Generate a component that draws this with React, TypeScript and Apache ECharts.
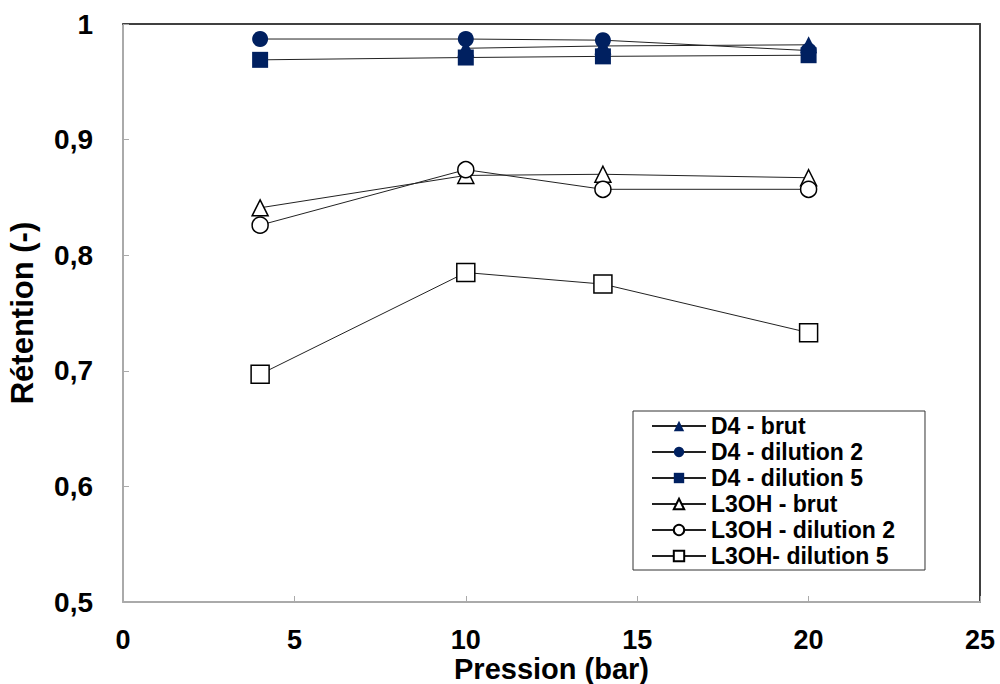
import React, { useEffect, useRef } from "react";
import * as echarts from "echarts";

const xD4Brut = [10, 14, 20];
const yD4Brut = [0.979, 0.981, 0.982];
const xPressure = [4, 10, 14, 20];
const yD4Dil2 = [0.987, 0.987, 0.986, 0.977];
const yD4Dil5 = [0.969, 0.971, 0.972, 0.973];
const yL3Brut = [0.841, 0.869, 0.870, 0.867];
const yL3Dil2 = [0.826, 0.874, 0.857, 0.857];
const yL3Dil5 = [0.697, 0.785, 0.775, 0.733];

const seriesNames = [
  "D4 - brut",
  "D4 - dilution 2",
  "D4 - dilution 5",
  "L3OH - brut",
  "L3OH - dilution 2",
  "L3OH- dilution 5",
];

const NAVY = "#002060";
const FONT = "'Liberation Sans', Arial, sans-serif";

function pairs(xs: number[], ys: number[]) {
  return xs.map((x, i) => [x, ys[i]]);
}

export default function App() {
  const ref = useRef<HTMLDivElement>(null);
  useEffect(() => {
    if (!ref.current) return;
    const chart = echarts.init(ref.current, undefined, { renderer: "svg" });
    const mk = (name: string, data: number[][], symbol: string, filled: boolean, size: number) => ({
      name,
      type: "line",
      data,
      symbol,
      symbolSize: size,
      showAllSymbol: true,
      lineStyle: { color: "#222", width: 1 },
      itemStyle: filled
        ? { color: NAVY, borderColor: NAVY, borderWidth: 0 }
        : { color: "#fff", borderColor: "#000", borderWidth: 1.5 },
      emphasis: { disabled: true },
    });
    chart.setOption({
      animation: false,
      backgroundColor: "#fff",
      grid: { left: 123, right: 20, top: 24, bottom: 82, outerBoundsMode: "none", containLabel: false },
      legend: {
        orient: "vertical",
        left: 633,
        top: 411,
        padding: [2, 30, 1, 18],
        itemWidth: 54,
        itemHeight: 13,
        itemGap: 0,
        backgroundColor: "#fff",
        borderColor: "#333",
        borderWidth: 1,
        textStyle: { fontFamily: FONT, fontWeight: "bold", fontSize: 23, lineHeight: 26, color: "#000" },
        data: seriesNames,
      },
      xAxis: [
        {
          type: "value",
          min: 0,
          max: 25,
          interval: 5,
          name: "Pression (bar)",
          nameLocation: "middle",
          nameGap: 52,
          nameMoveOverlap: false,
          nameTextStyle: { fontFamily: FONT, fontWeight: "bold", fontSize: 29, color: "#000", verticalAlign: "top" },
          axisLine: { show: true, lineStyle: { color: "#aaa", width: 2 } },
          axisTick: { show: true, inside: true, length: 6, lineStyle: { color: "#aaa" } },
          axisLabel: { fontFamily: FONT, fontWeight: "bold", fontSize: 27, color: "#000", margin: 24 },
          splitLine: { show: false },
        },
        {
          type: "value",
          position: "top",
          min: 0,
          max: 25,
          axisLine: { show: true, onZero: false, lineStyle: { color: "#404040", width: 2 } },
          axisTick: { show: false },
          axisLabel: { show: false },
          splitLine: { show: false },
        },
      ],
      yAxis: [
        {
          type: "value",
          min: 0.5,
          max: 1,
          interval: 0.1,
          name: "Rétention (-)",
          nameLocation: "middle",
          nameRotate: 90,
          nameGap: 85,
          nameMoveOverlap: false,
          nameTextStyle: { fontFamily: FONT, fontWeight: "bold", fontSize: 31, color: "#000" },
          axisLine: { show: true, lineStyle: { color: "#aaa", width: 2 } },
          axisTick: { show: true, inside: true, length: 6, lineStyle: { color: "#aaa" } },
          axisLabel: {
            fontFamily: FONT,
            fontWeight: "bold",
            fontSize: 28,
            color: "#000",
            margin: 30,
            formatter: (v: number) => String(Math.round(v * 10) / 10).replace(".", ","),
          },
          splitLine: { show: false },
        },
        {
          type: "value",
          position: "right",
          min: 0.5,
          max: 1,
          axisLine: { show: true, onZero: false, lineStyle: { color: "#404040", width: 2 } },
          axisTick: { show: false },
          axisLabel: { show: false },
          splitLine: { show: false },
        },
      ],
      series: [
        mk(seriesNames[0], pairs(xD4Brut, yD4Brut), "triangle", true, 17),
        mk(seriesNames[1], pairs(xPressure, yD4Dil2), "circle", true, 16),
        mk(seriesNames[2], pairs(xPressure, yD4Dil5), "rect", true, 16),
        mk(seriesNames[3], pairs(xPressure, yL3Brut), "triangle", false, 16),
        mk(seriesNames[4], pairs(xPressure, yL3Dil2), "circle", false, 16),
        mk(seriesNames[5], pairs(xPressure, yL3Dil5), "rect", false, 18),
      ],
    });
    return () => chart.dispose();
  }, []);
  return (
    <div
      ref={ref}
      style={{ position: "fixed", left: 0, top: 0, width: 1000, height: 684, background: "#fff" }}
    />
  );
}
